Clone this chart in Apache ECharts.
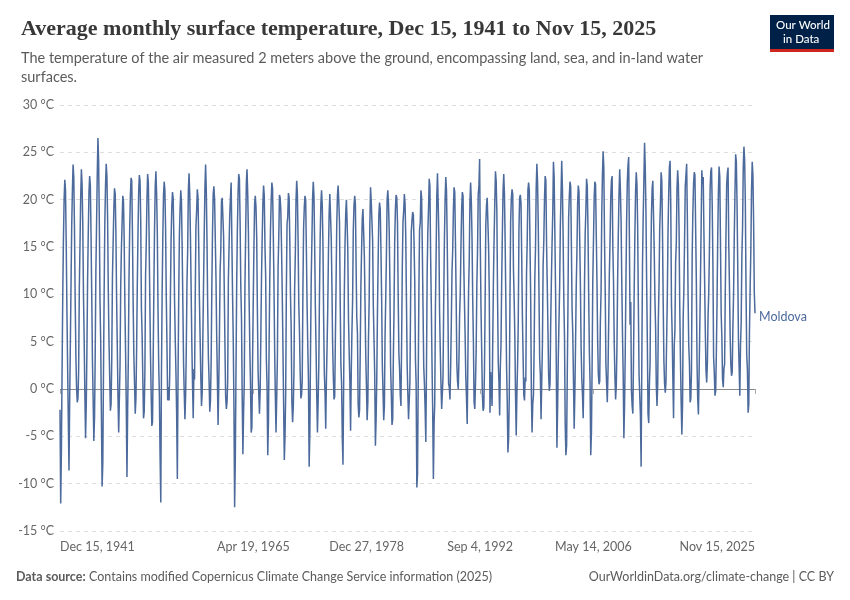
<!DOCTYPE html>
<html>
<head>
<meta charset="utf-8">
<script src="https://cdn.jsdelivr.net/npm/echarts@6/dist/echarts.min.js"></script>
<style>
html,body{margin:0;padding:0;background:#fff;}
#chart{width:850px;height:600px;}
</style>
</head>
<body>
<div id="chart"></div>
<script>
// Monthly temperature (°C), Moldova. First value = Dec 1941, then Jan..Dec per year.
const temps1940s = [
  -2.2,
  -12.1, -6.5, 1.5, 9.8, 15.8, 20.1, 22.1, 21.0, 15.4, 8.6, 2.5, -3.0,
  -8.6, -1.2, 4.5, 11.0, 17.2, 21.0, 23.7, 22.4, 16.8, 9.5, 3.6, 0.2,
  -1.4, -1.0, 1.8, 10.6, 15.2, 20.3, 23.2, 21.6, 17.3, 10.0, 5.2, -0.4,
  -5.2, -1.8, 3.9, 11.5, 16.5, 20.8, 22.5, 21.4, 16.0, 9.8, 3.0, -1.0,
  -5.5, -3.0, 3.2, 12.4, 17.3, 22.6, 26.5, 24.0, 17.5, 9.2, 4.8, -2.6,
  -10.3, -7.8, 1.2, 10.2, 17.6, 21.5, 23.8, 22.5, 17.9, 10.4, 5.0, 1.4,
  -2.3, -1.6, 3.0, 11.8, 15.4, 19.0, 21.2, 20.6, 16.3, 9.6, 4.4, -0.8,
  -4.6, -0.9, 2.4, 10.9, 14.8, 17.6, 20.4, 19.8, 15.6, 9.0, 3.9, -1.5
];
const temps1950s = [
  -9.3, -2.2, 3.0, 11.6, 16.8, 20.4, 22.3, 22.0, 16.2, 9.1, 3.6, 0.6,
  -2.6, -1.0, 3.8, 10.8, 16.1, 20.8, 22.6, 22.0, 17.6, 8.5, 5.6, 1.2,
  -3.1, -2.4, 1.6, 12.0, 15.4, 20.0, 22.7, 21.8, 16.6, 10.2, 4.0, -0.2,
  -3.9, -3.5, 2.8, 10.4, 16.8, 21.4, 23.0, 20.6, 16.4, 8.6, 2.6, -0.6,
  -7.0, -12.0, 1.2, 10.0, 16.0, 20.5, 21.9, 21.0, 16.8, 9.8, 4.6, -1.2,
  0.2, -1.2, 1.4, 9.6, 15.8, 19.2, 20.8, 20.2, 15.8, 9.4, 5.2, 1.8,
  -2.6, -9.5, 0.8, 9.4, 16.2, 19.0, 21.0, 19.8, 14.8, 9.0, 2.8, -0.4,
  -3.2, -0.6, 4.2, 11.2, 14.6, 21.0, 22.8, 20.6, 16.0, 10.6, 4.8, 0.6,
  -3.1, 2.1, 1.0, 9.8, 17.2, 18.8, 21.1, 20.2, 15.2, 9.6, 5.4, 1.4,
  -1.8, -0.4, 5.2, 11.0, 16.2, 21.2, 23.7, 21.0, 15.6, 8.8, 3.4, 1.0
];
const temps1960s = [
  -2.4, -1.2, 2.8, 10.6, 16.6, 20.6, 21.4, 20.0, 15.8, 11.8, 5.6, 1.2,
  -3.8, 0.4, 5.4, 12.4, 14.6, 19.8, 20.2, 20.0, 16.2, 10.6, 4.6, -0.8,
  -2.1, -1.4, 0.8, 11.6, 15.0, 18.4, 20.2, 21.8, 15.8, 10.2, 5.4, -1.6,
  -12.5, -7.4, 1.4, 10.8, 16.6, 20.6, 22.7, 22.2, 17.4, 10.8, 7.4, -0.8,
  -6.9, -2.4, 0.6, 11.0, 16.2, 21.8, 23.2, 20.6, 16.4, 9.6, 4.4, 0.6,
  -4.6, -4.0, 2.6, 9.2, 14.8, 19.6, 20.4, 19.2, 16.0, 8.4, 1.8, 1.6,
  -2.6, -0.2, 5.4, 11.8, 16.0, 19.6, 21.5, 20.4, 15.0, 12.0, 3.2, 0.4,
  -7.0, -3.6, 4.6, 11.6, 16.8, 19.8, 21.8, 21.2, 16.6, 11.4, 4.2, -0.6,
  -4.6, -0.8, 3.2, 12.8, 16.0, 20.5, 20.2, 18.8, 14.8, 10.2, 4.4, -1.6,
  -7.5, -5.0, -0.6, 10.4, 17.4, 18.2, 20.7, 20.2, 15.4, 9.8, 6.2, -1.4
];
const temps1970s = [
  -3.5, -1.8, 1.6, 10.6, 14.2, 20.0, 22.0, 20.6, 15.6, 9.0, 6.0, 1.8,
  -1.0, -0.6, 0.8, 10.4, 17.0, 19.2, 20.4, 20.0, 14.6, 9.0, 4.6, 1.0,
  -8.2, -4.6, 3.8, 11.6, 15.6, 20.2, 21.9, 20.4, 15.0, 8.6, 4.2, -0.6,
  -4.6, -1.2, 2.4, 10.0, 16.0, 19.6, 21.0, 19.4, 15.2, 7.4, 1.6, -0.4,
  -4.2, 1.0, 4.4, 8.6, 14.4, 18.6, 20.6, 20.4, 16.0, 11.0, 4.8, 1.4,
  -1.1, -0.8, 5.0, 10.8, 17.2, 20.4, 21.5, 19.8, 17.6, 9.4, 2.6, 0.6,
  -5.0, -8.0, 0.2, 10.2, 15.4, 18.6, 20.0, 17.6, 14.6, 7.4, 3.8, 0.8,
  -4.4, 1.8, 6.0, 9.4, 16.8, 19.4, 20.4, 19.6, 13.2, 7.6, 5.8, -1.6,
  -3.0, -2.2, 3.6, 10.8, 14.6, 18.0, 19.0, 18.8, 14.0, 9.0, 3.6, 0.4,
  -3.3, -1.4, 5.2, 9.4, 17.4, 21.3, 19.8, 19.6, 15.6, 8.8, 5.2, 1.6
];
const temps1980s = [
  -6.0, -3.2, 1.0, 8.2, 13.6, 18.4, 19.7, 19.0, 14.8, 9.8, 2.6, -0.2,
  -3.3, -1.8, 5.6, 9.6, 14.2, 20.0, 21.0, 19.6, 16.6, 11.2, 2.4, -0.4,
  -3.8, -3.2, 3.0, 8.4, 15.6, 19.0, 20.5, 20.2, 17.6, 10.0, 3.8, 2.2,
  -0.6, -1.8, 4.8, 12.8, 17.6, 18.8, 20.6, 19.6, 16.0, 9.4, 2.6, -0.4,
  -3.2, -3.0, 0.6, 9.2, 16.6, 17.8, 18.7, 18.4, 15.4, 11.4, 3.2, 0.6,
  -10.4, -9.0, 0.2, 10.2, 16.8, 17.6, 21.0, 20.2, 14.6, 8.6, 2.4, 0.6,
  -2.0, -5.6, 1.6, 12.2, 16.6, 19.0, 22.2, 21.4, 14.2, 9.0, 2.8, -2.2,
  -9.5, -3.6, -1.6, 8.6, 14.0, 20.4, 22.8, 19.6, 16.0, 8.2, 4.0, 0.6,
  -2.1, -0.4, 1.4, 9.4, 15.8, 20.0, 22.4, 21.0, 15.8, 9.4, 0.6, 0.2,
  -1.1, 2.4, 6.8, 12.4, 14.6, 18.8, 21.3, 20.8, 15.4, 9.8, 2.6, 0.8
];
const temps1990s = [
  0.0, 3.0, 7.6, 10.2, 15.0, 19.0, 20.8, 20.4, 13.4, 9.4, 5.6, 1.2,
  -1.0, -3.7, 2.8, 10.2, 13.6, 19.8, 21.8, 19.8, 16.0, 9.6, 5.0, -1.4,
  -2.1, 0.6, 4.0, 11.0, 14.6, 20.6, 21.4, 24.3, 15.0, 8.6, 4.0, -0.6,
  -2.3, -2.0, 1.6, 9.2, 17.4, 19.4, 20.2, 20.2, 15.0, 10.2, -2.5, 1.8,
  0.4, -1.8, 4.6, 11.4, 15.8, 19.6, 23.0, 22.0, 18.6, 9.8, 2.8, 0.8,
  -2.8, 2.4, 4.6, 11.2, 16.4, 21.0, 22.7, 20.6, 15.6, 9.4, 2.6, -1.2,
  -6.7, -5.2, -0.8, 9.6, 17.8, 20.2, 21.1, 20.6, 12.8, 9.6, 5.6, -0.4,
  -4.9, -0.4, 2.4, 7.0, 16.8, 20.2, 20.5, 19.6, 13.8, 7.6, 3.4, -0.6,
  -1.2, 1.2, 0.8, 12.2, 15.6, 21.0, 21.8, 21.0, 15.4, 9.6, -0.6, -4.6,
  -1.6, -0.6, 4.0, 11.6, 14.8, 21.2, 23.8, 21.8, 17.2, 10.4, 3.2, 1.6
];
const temps2000s = [
  -3.2, 0.8, 4.6, 13.0, 15.6, 20.0, 22.5, 22.0, 15.2, 11.0, 6.2, 1.4,
  -0.2, 0.6, 6.8, 11.4, 15.4, 18.6, 24.0, 22.4, 16.6, 10.6, 3.4, -6.2,
  -2.0, 3.4, 7.0, 10.8, 17.2, 20.6, 24.1, 21.2, 16.0, 9.6, 5.4, -3.6,
  -7.0, -6.0, 1.2, 8.4, 18.0, 20.4, 21.9, 21.4, 15.0, 8.4, 5.8, 1.0,
  -4.2, -0.4, 4.6, 10.8, 14.4, 19.6, 21.5, 20.8, 15.8, 11.2, 4.6, 1.2,
  -0.6, -3.1, 1.2, 11.0, 16.4, 19.0, 22.2, 21.4, 17.0, 10.2, 4.0, 0.8,
  -7.0, -4.6, 2.2, 11.4, 15.6, 20.2, 21.9, 21.6, 16.4, 11.6, 5.2, 1.6,
  0.5, 0.8, 7.0, 10.2, 18.4, 22.6, 25.1, 23.4, 15.6, 10.4, 2.6, 0.6,
  -1.4, 1.8, 6.8, 12.2, 15.6, 20.2, 22.0, 22.5, 15.0, 11.4, 5.0, 1.4,
  -1.1, 0.4, 4.4, 11.6, 16.4, 20.6, 23.2, 21.0, 17.6, 11.2, 5.8, 1.6
];
const temps2010s = [
  -5.2, -1.6, 3.6, 11.0, 17.6, 21.8, 23.6, 24.5, 16.0, 6.8, 9.2, -0.2,
  -1.8, -2.6, 3.0, 10.4, 16.2, 20.8, 22.9, 21.6, 17.2, 9.0, 1.6, 1.8,
  -2.8, -8.2, 2.4, 13.0, 18.0, 22.0, 26.0, 23.4, 18.6, 11.4, 5.0, -2.6,
  -3.6, 0.6, 2.6, 12.4, 18.4, 21.2, 22.0, 21.8, 14.6, 9.6, 6.4, 0.4,
  -1.8, 0.4, 7.2, 11.2, 17.0, 19.4, 22.9, 22.0, 16.4, 9.2, 3.0, 0.6,
  -0.4, 0.8, 5.0, 9.8, 16.4, 20.6, 23.4, 24.1, 19.2, 9.0, 5.8, 1.2,
  -3.1, 4.6, 6.2, 13.4, 15.4, 21.2, 23.1, 21.6, 16.8, 8.6, 3.0, -1.4,
  -4.8, -1.6, 7.6, 10.6, 15.8, 21.4, 22.6, 23.8, 18.0, 10.2, 4.6, 2.8,
  -1.4, -1.0, 1.8, 14.0, 18.6, 21.6, 22.9, 22.6, 17.0, 11.6, 2.8, -1.0,
  -2.7, 1.6, 6.2, 11.4, 17.0, 23.1, 21.6, 22.4, 16.6, 11.6, 6.2, 2.0
];
const temps2020s = [
  0.7, 2.8, 7.6, 10.2, 14.6, 21.2, 23.0, 23.4, 19.4, 13.4, 3.4, 1.8,
  -0.7, -0.2, 3.6, 9.0, 15.8, 20.8, 23.5, 22.4, 15.4, 8.0, 5.4, 1.0,
  0.2, 2.2, 2.6, 10.4, 16.2, 21.6, 22.8, 23.4, 15.2, 11.0, 5.6, 2.6,
  1.4, 1.8, 6.4, 10.0, 16.0, 20.6, 24.8, 24.0, 19.6, 13.2, 5.4, 2.4,
  -0.7, 4.6, 7.0, 14.0, 17.0, 23.4, 25.6, 24.2, 19.6, 10.6, 3.6, 2.1,
  -2.5, -1.6, 6.0, 10.6, 14.6, 21.0, 24.0, 22.6, 17.6, 10.2, 8.0
];
const seriesName = 'Moldova';
const startYear = 1941, startMonth = 11; // Dec 1941 (0-based month)
const xTickDates = ['1941-12-15', '1965-04-19', '1978-12-27', '1992-09-04', '2006-05-14', '2025-11-15'];
const yTicks = [-15, -10, -5, 0, 5, 10, 15, 20, 25, 30];

const allTemps = [].concat(temps1940s, temps1950s, temps1960s, temps1970s, temps1980s,
  temps1990s, temps2000s, temps2010s, temps2020s);
const data = allTemps.map((v, i) => [Date.UTC(startYear, startMonth + i, 15), v]);
const tickTs = xTickDates.map(s => Date.parse(s + 'T00:00:00Z'));
const MONTHS = ['Jan','Feb','Mar','Apr','May','Jun','Jul','Aug','Sep','Oct','Nov','Dec'];
function fmtDate(ts) {
  const d = new Date(ts);
  return MONTHS[d.getUTCMonth()] + ' ' + d.getUTCDate() + ', ' + d.getUTCFullYear();
}

const chart = echarts.init(document.getElementById('chart'), null, { renderer: 'canvas' });
const FONT = 'Lato, "Noto Sans", sans-serif';
const BLUE = '#4C6A9C';
chart.setOption({
  animation: false,
  backgroundColor: '#ffffff',
  title: [
    {
      text: 'Average monthly surface temperature, Dec 15, 1941 to Nov 15, 2025',
      left: 16, top: 13,
      textStyle: { fontFamily: '"Liberation Serif", "DejaVu Serif", serif', fontSize: 22, fontWeight: 'bold', color: '#383838' }
    },
    {
      text: 'The temperature of the air measured 2 meters above the ground, encompassing land, sea, and in-land water\nsurfaces.',
      left: 16, top: 44,
      textStyle: { fontFamily: FONT, fontSize: 14.5, color: '#5b5b5b', lineHeight: 19, fontWeight: 'normal' }
    }
  ],
  graphic: [
    { type: 'rect', left: 770, top: 15, shape: { width: 64, height: 34 }, style: { fill: '#002147' } },
    { type: 'rect', left: 770, top: 49, shape: { width: 64, height: 3 }, style: { fill: '#ce261e' } },
    { type: 'text', left: 776, top: 19, style: { text: 'Our World', fill: '#fff', font: '500 11.5px ' + FONT } },
    { type: 'text', left: 783, top: 33, style: { text: 'in Data', fill: '#fff', font: '500 11.5px ' + FONT } },
    { type: 'text', left: 16, top: 570, style: { rich: { b: { fontWeight: 'bold', fill: '#5b5b5b', fontSize: 12.5, fontFamily: FONT }, n: { fill: '#5b5b5b', fontSize: 12.5, fontFamily: FONT } }, text: '{b|Data source:} {n|Contains modified Copernicus Climate Change Service information (2025)}' } },
    { type: 'text', right: 16, top: 570, style: { text: 'OurWorldinData.org/climate-change | CC BY', fill: '#5b5b5b', font: '12.5px ' + FONT } }
  ],
  grid: { left: 60, right: 95, top: 105, bottom: 69 },
  xAxis: {
    type: 'value',
    min: tickTs[0],
    max: tickTs[tickTs.length - 1],
    axisLine: { show: true, lineStyle: { color: 'rgba(0,0,0,0)' } },
    splitLine: { show: false },
    axisTick: { show: true, customValues: tickTs, length: 5, lineStyle: { color: '#aaaaaa', width: 1 } },
    axisLabel: {
      customValues: tickTs,
      formatter: v => fmtDate(v),
      alignMinLabel: 'left', alignMaxLabel: 'right',
      showMinLabel: true, showMaxLabel: true,
      color: '#666', fontFamily: FONT, fontSize: 12.5, margin: 9
    }
  },
  yAxis: {
    type: 'value',
    min: yTicks[0], max: yTicks[yTicks.length - 1], interval: 5,
    axisLine: { show: false },
    axisTick: { show: false },
    splitLine: { show: true, lineStyle: { color: '#dddddd', type: [4, 4] } },
    axisLabel: { formatter: v => v + ' °C', color: '#666', fontFamily: FONT, fontSize: 12.5, margin: 6 }
  },
  series: [{
    name: seriesName,
    type: 'line',
    data: data,
    showSymbol: false,
    symbol: 'none',
    lineStyle: { color: BLUE, width: 1.5 },
    itemStyle: { color: BLUE },
    z: 3,
    endLabel: { show: true, formatter: '{a}', color: BLUE, fontFamily: FONT, fontSize: 12.5, distance: 4, offset: [0, 4] },
    markLine: {
      silent: true, symbol: 'none', animation: false,
      label: { show: false },
      lineStyle: { color: '#8a8a8a', type: 'solid', width: 1 },
      data: [{ yAxis: 0 }],
      z: 1
    }
  }]
});
</script>
</body>
</html>
